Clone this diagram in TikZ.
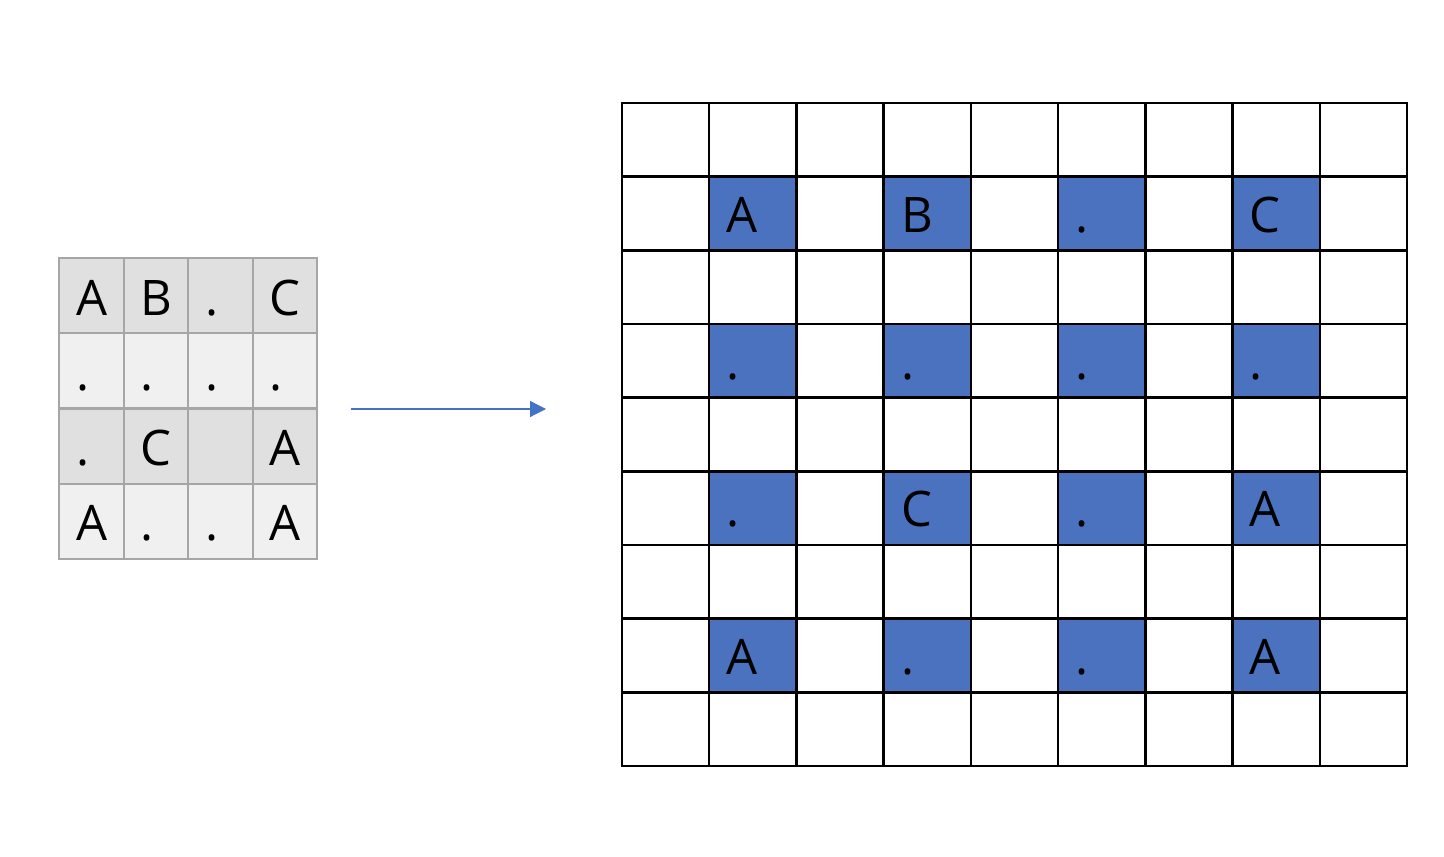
\documentclass[tikz,border=0pt]{standalone}
\usepackage{fontspec}
\setmainfont{Open Sans}
\usetikzlibrary{arrows.meta}
\definecolor{cellblue}{HTML}{4A72BE}
\definecolor{arrowblue}{HTML}{4472C4}
\definecolor{srcdark}{HTML}{E0E0E0}
\definecolor{srclight}{HTML}{F0F0F0}
\definecolor{gridgray}{HTML}{A6A6A6}

\begin{document}
\begin{tikzpicture}[x=0.5pt,y=0.5pt,font=\fontsize{24.5}{28}\selectfont]
    \tikzset{
        src/.style={
            draw=gridgray,line width=1pt,inner sep=0pt,outer sep=0pt,
            minimum width=32.25pt,minimum height=37.6pt
        },
        dst/.style={
            draw=black,line width=1.25pt,fill=white,inner sep=0pt,outer sep=0pt,
            minimum width=43.6pt,minimum height=36.8pt
        },
        hit/.style={fill=cellblue},
        ch/.style={anchor=base west,inner sep=0pt},
        flow/.style={-{Triangle[length=8pt,width=8pt]},draw=arrowblue,line width=0.6pt}
    }
    \useasboundingbox (0,0) rectangle (1444,856);

    % source block
    \foreach \r/\shade in {0/srcdark,1/srclight,2/srcdark,3/srclight}
        \foreach \c in {0,...,3}
            \node[src,fill=\shade] (s-\r-\c) at ({59+64.5*(\c+0.5)},{598-75.25*(\r+0.5)}) {};
    \foreach \r/\row in {0/{A,B,.,C},1/{.,.,.,.},2/{.,C,{},A},3/{A,.,.,A}}
        \foreach \ch [count=\c from 0] in \row
            \node[ch] (sl-\r-\c) at ([shift={(17,18)}]s-\r-\c.south west) {\ch};

    % arrow
    \coordinate (from) at (351,447);
    \coordinate (to) at (546,447);
    \draw[flow] (from) -- (to);

    % spread-out block
    \foreach \r in {0,...,8}
        \foreach \c in {0,...,8}
            \node[dst] (b-\r-\c) at ({622+87.22*(\c+0.5)},{753-73.67*(\r+0.5)}) {};
    \foreach \r in {1,3,5,7}
        \foreach \c in {1,3,5,7}
            \node[dst,hit] (h-\r-\c) at (b-\r-\c) {};
    \foreach \r/\row in {1/{A,B,.,C},3/{.,.,.,.},5/{.,C,.,A},7/{A,.,.,A}}
        \foreach \ch [count=\k from 0] in \row {
            \pgfmathtruncatemacro\c{2*\k+1}
            \node[ch] (bl-\r-\c) at ([shift={(17,18)}]h-\r-\c.south west) {\ch};
        }
\end{tikzpicture}
\end{document}
